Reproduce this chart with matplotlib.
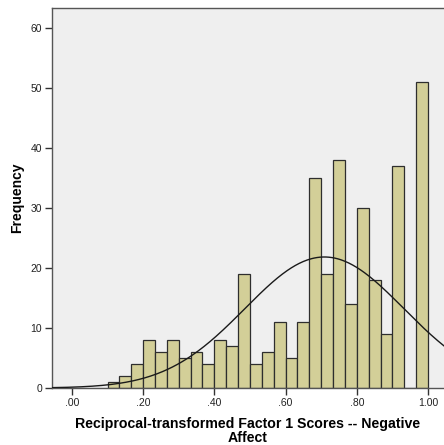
import matplotlib
matplotlib.use("Agg")
import matplotlib.pyplot as plt
import numpy as np

plt.rcParams["font.family"] = ["Liberation Sans", "DejaVu Sans"]

# histogram bins (width 1/30) from 0.10 to 1.00, counts
bin_edges = np.linspace(0.10, 1.00, 28)
counts = [1, 2, 4, 8, 6, 8, 5, 6, 4, 8, 7, 19, 4, 6, 11, 5, 11,
          35, 19, 38, 14, 30, 18, 9, 37, 0, 51]
fit_mean, fit_sd = 0.709, 0.223   # normal curve parameters (estimated)

xticks = [0.0, 0.2, 0.4, 0.6, 0.8, 1.0]
xticklabels = [".00", ".20", ".40", ".60", ".80", "1.00"]
yticks = [0, 10, 20, 30, 40, 50, 60]

fig = plt.figure(figsize=(4.44, 4.45), dpi=100)
ax = fig.add_axes([52 / 444, 57 / 445, 1 - 52 / 444, 380 / 445])
ax.set_facecolor("#efefef")

widths = np.diff(bin_edges)
ax.bar(bin_edges[:-1], counts, width=widths, align="edge", color="#d3cf98",
       edgecolor="#2e2e2e", linewidth=0.9, zorder=2)

n = sum(counts)
bw = widths[0]
xs = np.linspace(-0.06, 1.05, 400)
ys = n * bw / (fit_sd * np.sqrt(2 * np.pi)) * np.exp(-(xs - fit_mean) ** 2 / (2 * fit_sd ** 2))
ax.plot(xs, ys, color="#1a1a1a", lw=1.0, zorder=3)

ax.set_xlim(-0.056, 1.045)
ax.set_ylim(0, 63.3)
ax.set_xticks(xticks)
ax.set_xticklabels(xticklabels)
ax.set_yticks(yticks)
ax.tick_params(direction="out", length=5, width=1, color="#333333",
               labelsize=7.5, labelcolor="#222222", pad=2)
for s in ["left", "bottom", "top"]:
    ax.spines[s].set_color("#555555")
    ax.spines[s].set_linewidth(1.0)
ax.spines["right"].set_visible(False)

ax.set_ylabel("Frequency", fontsize=10, fontweight="bold")
ax.yaxis.set_label_coords(-(52 - 24) / 392, 0.5)
ax.set_xlabel("Reciprocal-transformed Factor 1 Scores -- Negative\nAffect",
              fontsize=10.2, fontweight="bold", linespacing=1.0, labelpad=7)

fig.savefig("out.png", dpi=100)
